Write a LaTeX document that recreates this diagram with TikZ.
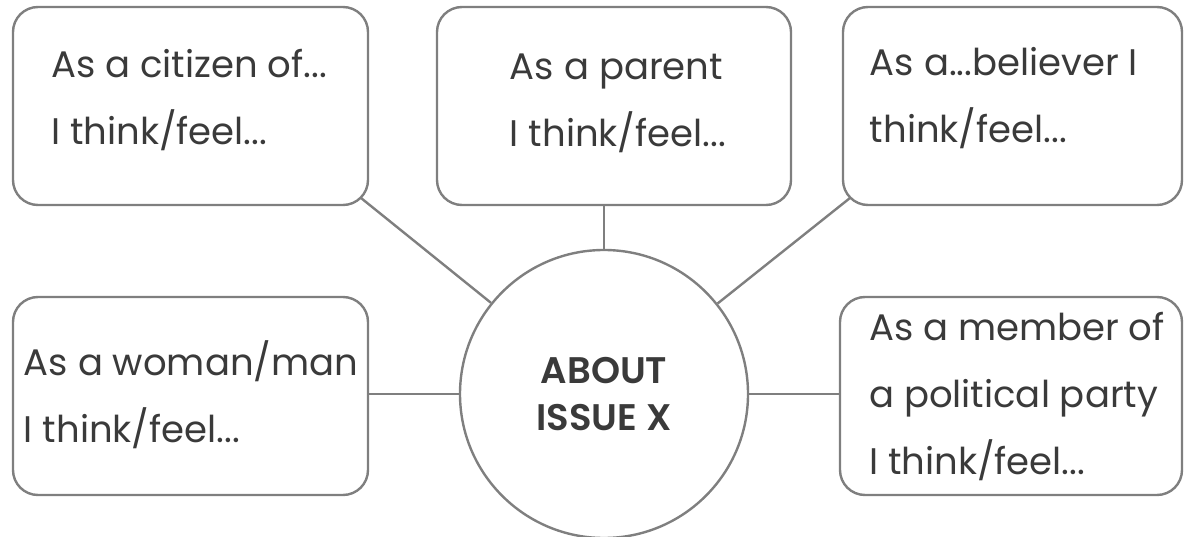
\documentclass[tikz,border=0pt]{standalone}
\usepackage{fontspec}
\setmainfont{Poppins}[BoldFont={Poppins SemiBold}]
\definecolor{linegray}{HTML}{7F7F7F}
\definecolor{txt}{HTML}{3A3A3A}
\begin{document}
\begin{tikzpicture}[x=1pt,y=-1pt,
  box/.style={draw=linegray, line width=2.4pt, rounded corners=25pt, minimum height=198pt, inner sep=0pt},
  lbl/.style={align=left, text=txt, inner sep=0pt, font=\fontsize{37}{67}\selectfont},
  hub/.style={circle, draw=linegray, line width=2.4pt, minimum size=288pt, inner sep=0pt, align=center, text=txt, font=\bfseries\fontsize{37}{47}\selectfont},
  conn/.style={draw=linegray, line width=2.4pt}]
\useasboundingbox (0,0) rectangle (1185,537);
% boxes
\node[box, minimum width=355pt] (tl) at (190.5,106) {};
\node[box, minimum width=354pt] (tm) at (614,106) {};
\node[box, minimum width=339pt] (tr) at (1012.5,106) {};
\node[box, minimum width=355pt] (bl) at (190.5,396) {};
\node[box, minimum width=342pt] (br) at (1011,396) {};
% texts
\node[lbl] (tlt) at (189,100) {As a citizen of...\\I think/feel...};
\node[lbl] (tmt) at (618,103) {As a parent\\I think/feel...};
\node[lbl] (trt) at (1004,98) {As a...believer I\\think/feel...};
\node[lbl] (blt) at (191,395) {As a woman/man\\I think/feel...};
\node[lbl] (brt) at (1017,397) {As a member of\\a political party\\I think/feel...};
% hub
\node[hub] (c) at (604,394) {ABOUT\\ISSUE X};
% connectors
\coordinate (tlc) at (361,198);
\coordinate (trc) at (850,198);
\draw[conn] (tlc) -- (c);
\draw[conn] (trc) -- (c);
\draw[conn] (c.north) -- (c.north |- tm.south);
\draw[conn] (c.west) -- (c.west -| bl.east);
\draw[conn] (c.east) -- (c.east -| br.west);
\end{tikzpicture}
\end{document}
